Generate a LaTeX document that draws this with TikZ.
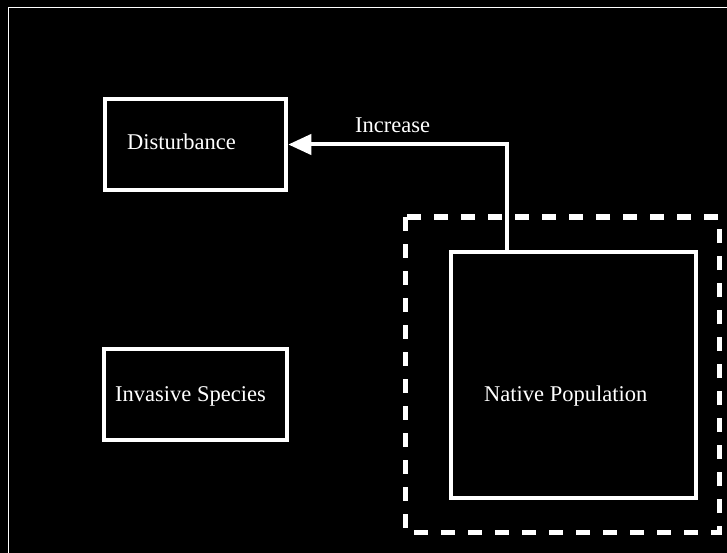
\documentclass[tikz,border=0pt]{standalone}
\usepackage{fontspec}
\setmainfont{Liberation Serif}
\usetikzlibrary{arrows.meta}
\begin{document}
\begin{tikzpicture}[x=1pt,y=-1pt,
  box/.style={draw=white,line width=4.5pt,fill=none,inner sep=0pt},
  txt/.style={text=white,font=\fontsize{22.5}{26}\selectfont,inner sep=0pt,anchor=base west},
  conn/.style={draw=white,line width=4pt,-{Triangle[length=23pt,width=20pt]}},
  group/.style={draw=white,line width=5pt,dash pattern=on 14pt off 13pt}]
  % canvas
  \fill[black] (0,0) rectangle (727,553);
  \useasboundingbox (0,0) rectangle (727,553);
  % outer frame, running off the right and bottom edges
  \draw[white,line width=1.5pt] (8.5,553) -- (8.5,7.5) -- (727,7.5);
  % boxes
  \node[box,minimum width=181pt,minimum height=91pt] (dist) at (195.5,144.5) {};
  \node[box,minimum width=183pt,minimum height=91pt] (inv) at (195.5,394.5) {};
  \node[box,minimum width=245pt,minimum height=246pt] (nat) at (573.5,375) {};
  % dashed group around the native population
  \draw[group] (405,217) rectangle (719,532);
  % labels
  \node[txt] (distlbl) at (127,150) {Disturbance};
  \node[txt] (invlbl) at (115,401) {Invasive Species};
  \node[txt] (natlbl) at (484,401) {Native Population};
  % feedback connector
  \draw[conn] ([xshift=58pt]nat.north west) |- (dist.east);
  \node[txt] (inc) at (355,133) {Increase};
\end{tikzpicture}
\end{document}
